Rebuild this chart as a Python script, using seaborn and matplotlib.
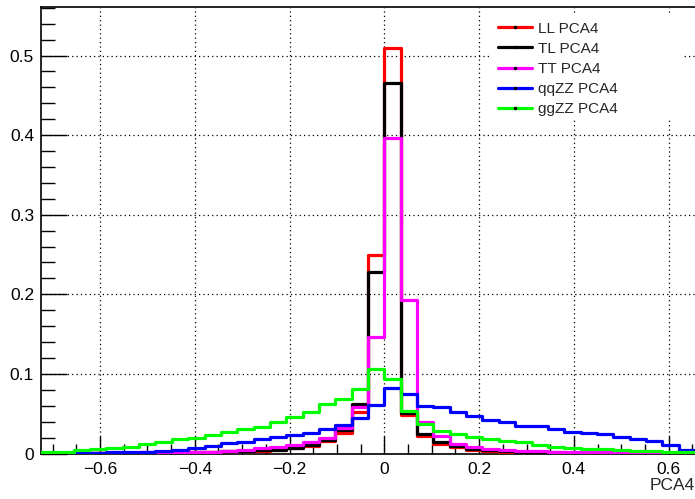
import numpy as np
import pandas as pd
import matplotlib
matplotlib.use("Agg")
import matplotlib.pyplot as plt
from matplotlib.lines import Line2D
from matplotlib.patches import Rectangle
from matplotlib.ticker import MultipleLocator, FuncFormatter
import seaborn as sns

# Binning of the PCA4 variable: 40 equal bins
x_low = -0.7245
bin_width = 0.0345
n_bins = 40

# Normalised bin contents for each sample
ll_pca4 = [0.0002, 0.0003, 0.0004, 0.0005, 0.0006, 0.0008, 0.0010, 0.0012, 0.0015, 0.0018,
           0.0022, 0.0027, 0.0030, 0.0035, 0.0044, 0.0065, 0.0094, 0.0157, 0.0260, 0.0525,
           0.2490, 0.5100, 0.0480, 0.0220, 0.0123, 0.0078, 0.0050, 0.0035, 0.0025, 0.0020,
           0.0015, 0.0012, 0.0010, 0.0008, 0.0006, 0.0005, 0.0004, 0.0003, 0.0002, 0.0002]
tl_pca4 = [0.0002, 0.0003, 0.0004, 0.0005, 0.0007, 0.0009, 0.0011, 0.0014, 0.0017, 0.0020,
           0.0025, 0.0030, 0.0035, 0.0040, 0.0050, 0.0072, 0.0105, 0.0170, 0.0290, 0.0620,
           0.2280, 0.4660, 0.0510, 0.0250, 0.0140, 0.0090, 0.0060, 0.0040, 0.0030, 0.0022,
           0.0017, 0.0013, 0.0010, 0.0008, 0.0006, 0.0005, 0.0004, 0.0003, 0.0002, 0.0002]
tt_pca4 = [0.0004, 0.0005, 0.0006, 0.0008, 0.0010, 0.0012, 0.0014, 0.0016, 0.0018, 0.0020,
           0.0025, 0.0035, 0.0050, 0.0065, 0.0086, 0.0107, 0.0148, 0.0190, 0.0317, 0.0580,
           0.1470, 0.3970, 0.1930, 0.0400, 0.0220, 0.0120, 0.0078, 0.0055, 0.0045, 0.0035,
           0.0030, 0.0025, 0.0020, 0.0017, 0.0014, 0.0012, 0.0010, 0.0008, 0.0006, 0.0005]
qqzz_pca4 = [0.0005, 0.0006, 0.0008, 0.0010, 0.0013, 0.0017, 0.0023, 0.0035, 0.0044, 0.0065,
             0.0094, 0.0128, 0.0148, 0.0178, 0.0203, 0.0232, 0.0260, 0.0310, 0.0358, 0.0440,
             0.0610, 0.0827, 0.0747, 0.0600, 0.0580, 0.0525, 0.0470, 0.0420, 0.0400, 0.0350,
             0.0350, 0.0310, 0.0270, 0.0255, 0.0240, 0.0210, 0.0180, 0.0155, 0.0105, 0.0045]
ggzz_pca4 = [0.0023, 0.0025, 0.0044, 0.0057, 0.0065, 0.0086, 0.0115, 0.0140, 0.0180, 0.0200,
             0.0232, 0.0274, 0.0310, 0.0337, 0.0390, 0.0460, 0.0517, 0.0620, 0.0690, 0.0810,
             0.1060, 0.0936, 0.0530, 0.0370, 0.0280, 0.0250, 0.0210, 0.0180, 0.0160, 0.0140,
             0.0105, 0.0086, 0.0073, 0.0060, 0.0055, 0.0045, 0.0035, 0.0030, 0.0025, 0.0020]

labels = ["LL PCA4", "TL PCA4", "TT PCA4", "qqZZ PCA4", "ggZZ PCA4"]
series = [ll_pca4, tl_pca4, tt_pca4, qqzz_pca4, ggzz_pca4]
colors = ["#ff0000", "#000000", "#ff00ff", "#0000ff", "#00ff00"]

edges = [x_low + bin_width * i for i in range(n_bins + 1)]
centers = [0.5 * (edges[i] + edges[i + 1]) for i in range(n_bins)]

sns.set_style("white")
plt.rcParams["font.family"] = ["Liberation Sans", "DejaVu Sans"]

fig = plt.figure(figsize=(6.95, 4.99), dpi=100)
ax = fig.add_axes([41 / 695, 1 - 453.5 / 499, 1 - 41 / 695, (453.5 - 7) / 499])

for lab, vals, col in zip(labels, series, colors):
    df = pd.DataFrame({"PCA4": centers, "w": vals})
    sns.histplot(data=df, x="PCA4", weights="w", bins=edges, element="step",
                 fill=False, color=col, linewidth=2.3, ax=ax, zorder=3)

ax.set_xlim(edges[0], edges[-1])
ax.set_ylim(0, 0.561)
ax.set_ylabel("")
ax.set_xlabel("PCA4", fontsize=12.5, loc="right", labelpad=1)

ax.xaxis.set_major_locator(MultipleLocator(0.2))
ax.xaxis.set_minor_locator(MultipleLocator(0.05))
ax.yaxis.set_major_locator(MultipleLocator(0.1))
ax.yaxis.set_minor_locator(MultipleLocator(0.02))
ax.xaxis.set_major_formatter(FuncFormatter(
    lambda v, p: "0" if abs(v) < 1e-9 else f"{v:.1f}".replace("-", "\u2212")))
ax.yaxis.set_major_formatter(FuncFormatter(
    lambda v, p: "0" if abs(v) < 1e-9 else f"{v:.1f}"))

ax.tick_params(axis="both", which="both", direction="in", colors="black",
               labelsize=12.5, width=1.0, left=True, bottom=True,
               right=False, top=False)
ax.tick_params(axis="y", which="major", length=19, pad=5)
ax.tick_params(axis="y", which="minor", length=10)
ax.tick_params(axis="x", which="major", length=13, pad=6)
ax.tick_params(axis="x", which="minor", length=7)

ax.grid(True, which="major", color="black", linestyle=(0, (1, 2.5)), linewidth=0.9)
ax.set_axisbelow(True)

for side in ["left", "bottom", "top"]:
    ax.spines[side].set_visible(True)
    ax.spines[side].set_color("black")
    ax.spines[side].set_linewidth(1.2)
ax.spines["right"].set_visible(False)

# Opaque legend pad that hides the grid behind the entries
ax.add_patch(Rectangle((0.6865, 0.747), 0.2935, 0.237, transform=ax.transAxes,
                       facecolor="white", edgecolor="none", zorder=1))

handles = [Line2D([], [], color=c, linewidth=2.3, marker="o", markersize=1.5,
                  markerfacecolor="black", markeredgecolor="black") for c in colors]
leg = ax.legend(handles, labels, loc="upper left", bbox_to_anchor=(0.699, 0.967),
                frameon=False, fontsize=11, handlelength=2.2, handletextpad=0.4,
                labelspacing=0.4, borderaxespad=0, borderpad=0)
leg.set_zorder(5)

fig.savefig("out.png", dpi=100)
